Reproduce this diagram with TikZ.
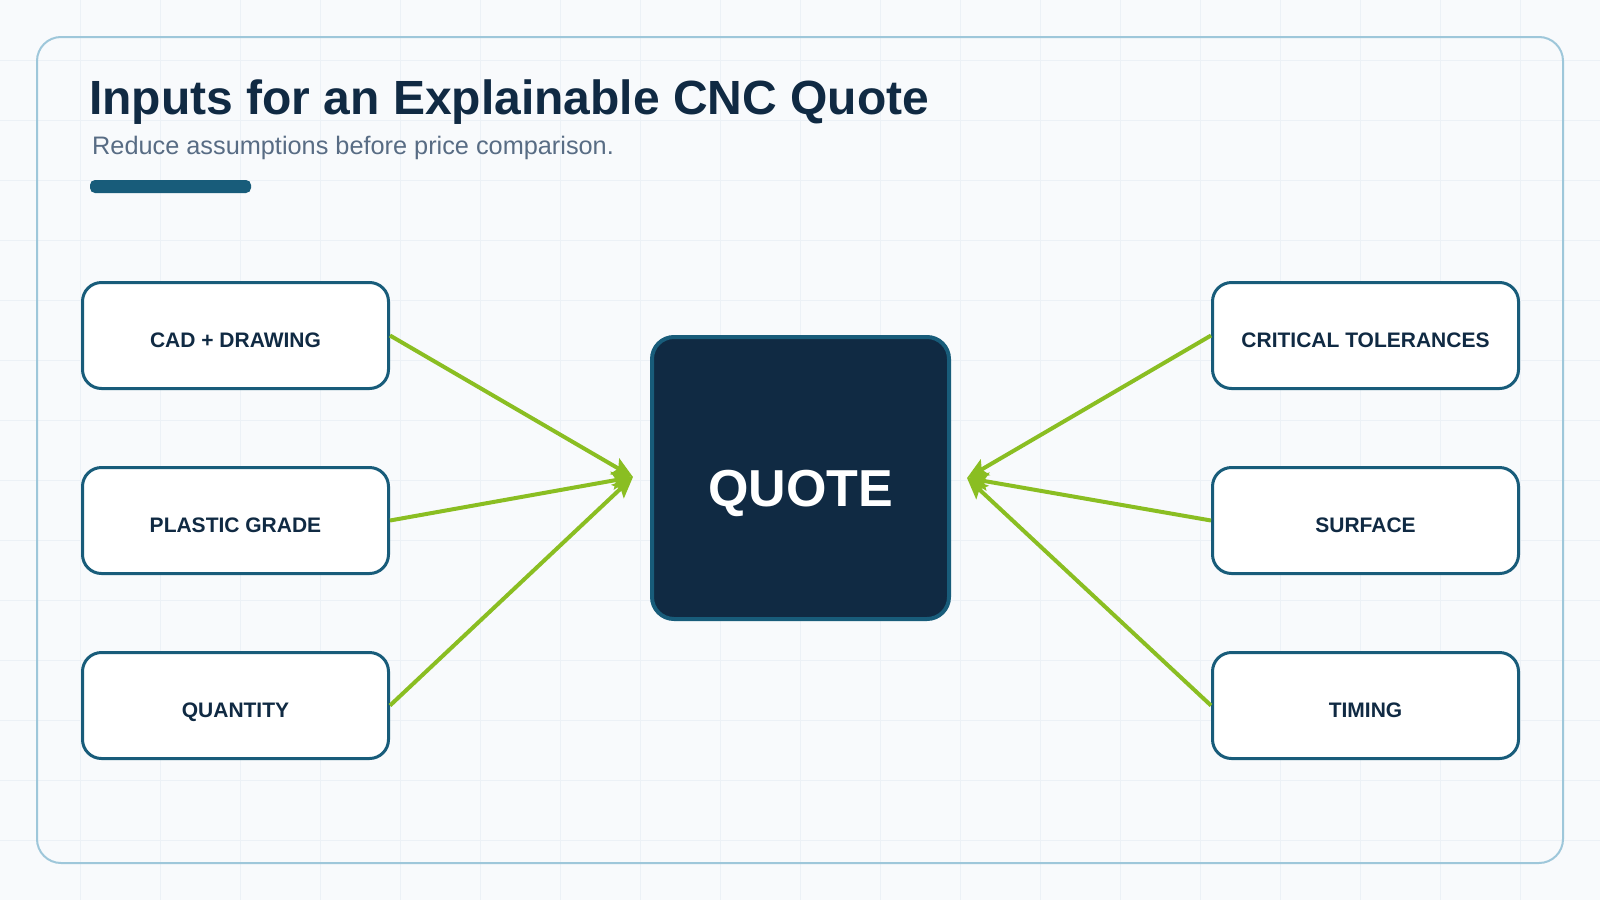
\documentclass[tikz,border=0pt]{standalone}
\usepackage{fontspec}
\setmainfont{Liberation Sans}
\usetikzlibrary{arrows.meta}
\definecolor{bgc}{RGB}{248,250,252}
\definecolor{gridc}{RGB}{236,241,246}
\definecolor{framec}{RGB}{158,199,218}
\definecolor{navy}{RGB}{16,42,67}
\definecolor{teal}{RGB}{24,92,122}
\definecolor{slate}{RGB}{88,108,132}
\definecolor{lime}{RGB}{138,190,34}
\tikzset{
  inbox/.style={draw=teal, line width=3pt, fill=white, rounded corners=19pt,
    minimum width=306pt, minimum height=106pt, inner sep=0pt,
    text=navy, font=\fontsize{21}{24}\selectfont\bfseries,
    text height=23pt, text depth=0pt},
  quotebox/.style={draw=teal, line width=4pt, fill=navy, rounded corners=22pt,
    minimum width=297pt, minimum height=282pt, inner sep=0pt,
    text=white, font=\fontsize{52}{60}\selectfont\bfseries,
    text height=56pt, text depth=0pt},
  feed/.style={draw=lime, line width=4pt,
    -{Stealth[length=21pt,width=18pt,inset=4pt]}},
}
\begin{document}
\begin{tikzpicture}[x=1pt,y=-1pt]
\useasboundingbox (0,0) rectangle (1600,900);
\fill[bgc] (0,0) rectangle (1600,900);
\foreach \gx in {80,160,...,1520} \draw[gridc, line width=1pt] (\gx,0) -- (\gx,900);
\foreach \gy in {60,120,...,840} \draw[gridc, line width=1pt] (0,\gy) -- (1600,\gy);
\draw[framec, line width=2pt, rounded corners=24pt] (37,37) rectangle (1563,863);

\node[anchor=base west, inner sep=0pt, text=navy, font=\fontsize{48}{56}\selectfont\bfseries] (title) at (89,114) {Inputs for an Explainable CNC Quote};
\node[anchor=base west, inner sep=0pt, text=slate, font=\fontsize{25.3}{29}\selectfont] (subtitle) at (92,154) {Reduce assumptions before price comparison.};
\fill[teal, rounded corners=5pt] (90,180) rectangle (251,193);

\node[quotebox] (quote) at (800.5,478) {QUOTE};

\node[inbox] (cad) at (235.5,335.5) {CAD + DRAWING};
\node[inbox] (grade) at (235.5,520.5) {PLASTIC GRADE};
\node[inbox] (qty) at (235.5,705.5) {QUANTITY};
\node[inbox] (tol) at (1365.5,335.5) {CRITICAL TOLERANCES};
\node[inbox] (surf) at (1365.5,520.5) {SURFACE};
\node[inbox] (time) at (1365.5,705.5) {TIMING};

\coordinate (tipL) at (633,477);
\coordinate (tipR) at (967,478);

\draw[feed] (cad.east) -- (tipL);
\draw[feed] (grade.east) -- (tipL);
\draw[feed] (qty.east) -- (tipL);
\draw[feed] (tol.west) -- (tipR);
\draw[feed] (surf.west) -- (tipR);
\draw[feed] (time.west) -- (tipR);
\end{tikzpicture}
\end{document}
